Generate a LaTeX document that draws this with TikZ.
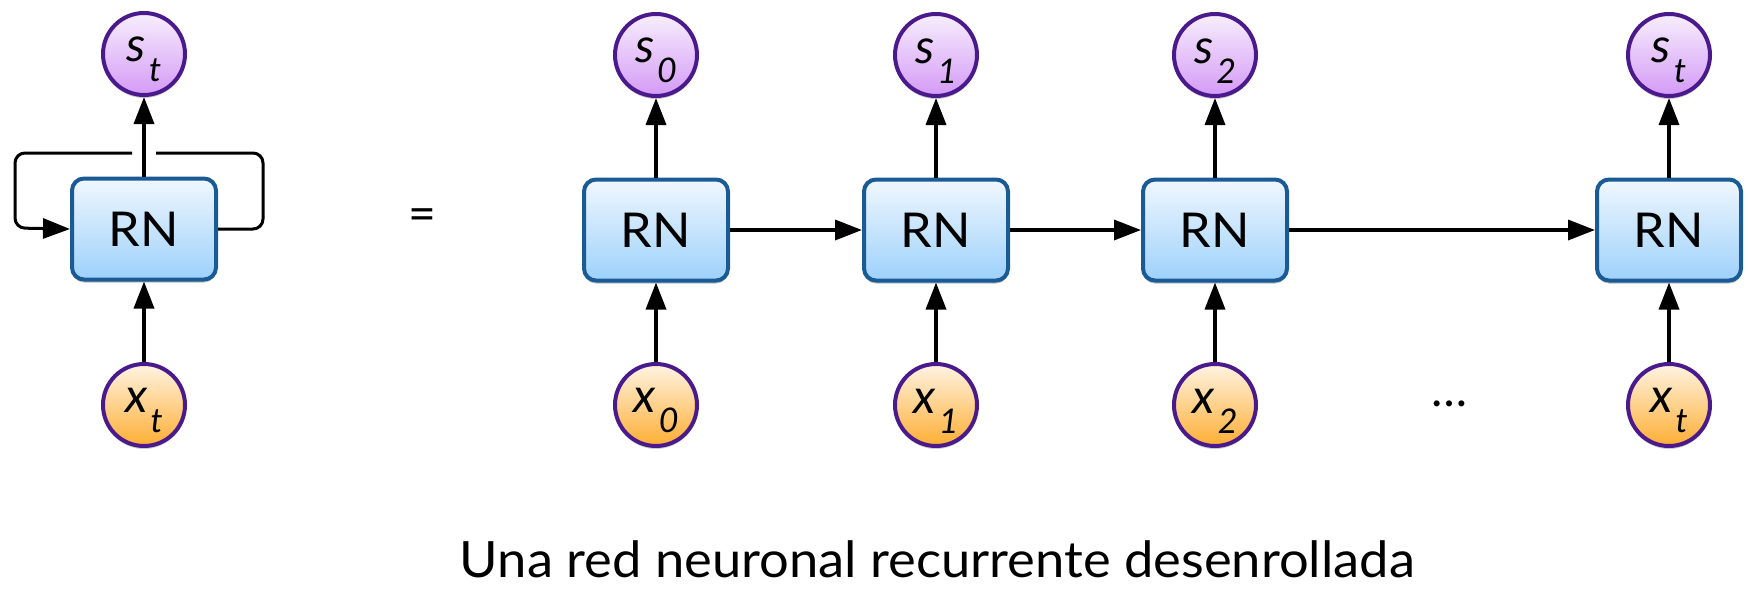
\documentclass[tikz,border=0pt]{standalone}
\usepackage{fontspec}
\setmainfont{Lato}
\usetikzlibrary{arrows.meta,shadows,calc}
\definecolor{boxline}{HTML}{1A5B96}
\definecolor{boxtop}{HTML}{F0F7FE}
\definecolor{boxbot}{HTML}{9DD1FB}
\definecolor{circline}{HTML}{4A1A8C}
\definecolor{stop}{HTML}{F7EEFD}
\definecolor{sbot}{HTML}{D49AF6}
\definecolor{xtop}{HTML}{FFF4E4}
\definecolor{xbot}{HTML}{FDAE33}
\newcommand{\vlab}[2]{\rule{0pt}{36pt}{\fontsize{48}{48}\selectfont\itshape #1}\hspace{3pt}\raisebox{-20pt}{\fontsize{34}{34}\selectfont\itshape #2}}
\tikzset{
  rnbox/.style={draw=boxline, line width=4pt, rounded corners=12pt, top color=boxtop, bottom color=boxbot,
    minimum width=144pt, minimum height=101pt, inner sep=0pt,
    font=\fontsize{48}{48}\selectfont,
    drop shadow={shadow xshift=0pt, shadow yshift=-3pt, opacity=0.25, fill=black}},
  snode/.style={circle, draw=circline, line width=4pt, top color=stop, bottom color=sbot,
    minimum size=82pt, inner sep=0pt,
    drop shadow={shadow xshift=0pt, shadow yshift=-3pt, opacity=0.2, fill=black}},
  xnode/.style={snode, top color=xtop, bottom color=xbot},
  arr/.style={line width=3.5pt, -{Triangle[length=27pt, width=20pt]}},
  loopline/.style={line width=3pt, rounded corners=10pt},
  plain/.style={font=\fontsize{48}{48}\selectfont, inner sep=0pt}
}
\begin{document}
\begin{tikzpicture}[x=1pt, y=-1pt]
\useasboundingbox (0,0) rectangle (1748,606);
% left folded network
\node[rnbox] (rn) at (144,229) {\scalebox{1.05}[1]{RN}};
\node[snode] (st) at (144,54) {\vlab{s}{t}};
\node[xnode] (xt) at (144,405) {\vlab{x}{t}};
\draw[arr] (rn) -- (st);
\draw[arr] (xt) -- (rn);
\coordinate (gapR) at (156,153);
\coordinate (gapL) at (132,153);
\coordinate (loopR) at (263,229);
\coordinate (loopL) at (15,228);
\draw[loopline] (rn.east) -- (loopR) |- (gapR);
\draw[loopline, -{Triangle[length=27pt, width=20pt]}] (gapL) -| (loopL) -- (rn.west);
% equals
\node[plain] (eq) at (422,220) {=};
% unrolled
\foreach \i/\xx/\sub in {0/656/0, 1/936/1, 2/1215/2, 3/1669/t}{
  \node[rnbox] (r\i) at (\xx,230) {\scalebox{1.05}[1]{RN}};
  \node[snode] (s\i) at (\xx,55) {\vlab{s}{\sub}};
  \node[xnode] (x\i) at (\xx,405) {\vlab{x}{\sub}};
  \draw[arr] (r\i) -- (s\i);
  \draw[arr] (x\i) -- (r\i);
}
\draw[arr] (r0.east) -- (r1.west);
\draw[arr] (r1.east) -- (r2.west);
\draw[arr] (r2.east) -- (r3.west);
\node[plain, anchor=base] (dots) at (1449,406) {\ldots};
\node[plain, anchor=base, font=\fontsize{50}{50}\selectfont] (cap) at (937.5,577) {\scalebox{1.05}[1]{Una red neuronal recurrente desenrollada}};
\end{tikzpicture}
\end{document}
